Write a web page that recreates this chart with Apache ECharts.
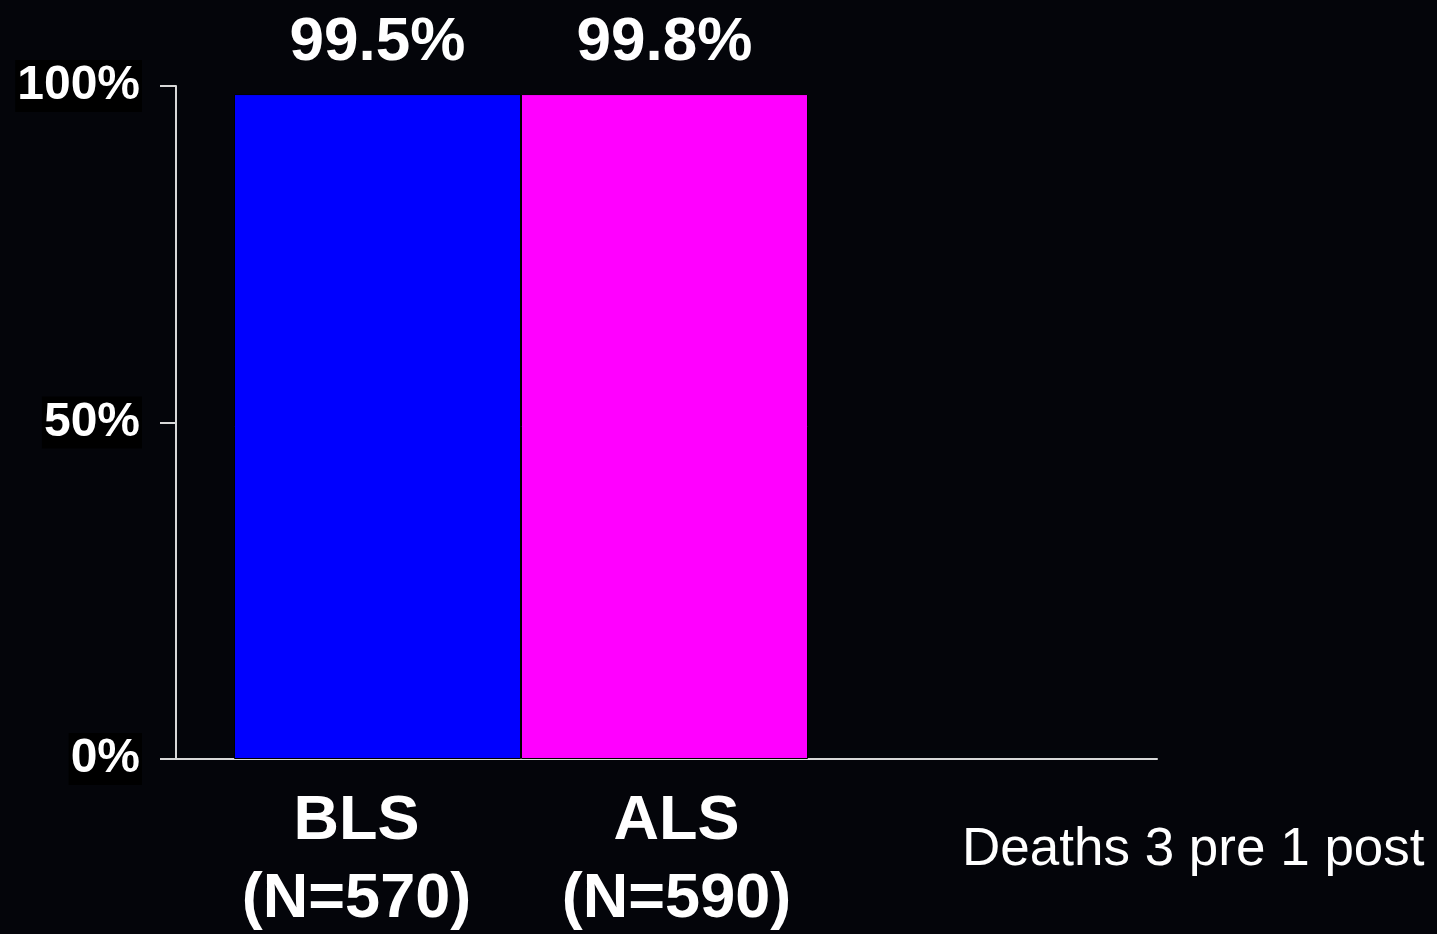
<!DOCTYPE html>
<html>
<head>
<meta charset="utf-8">
<script src="https://cdn.jsdelivr.net/npm/echarts@6/dist/echarts.min.js"></script>
<style>
  html, body { margin: 0; padding: 0; background: #04050a; }
  #container { width: 1437px; height: 934px; }
</style>
</head>
<body>
<div id="container"></div>
<script>
var dom = document.getElementById("container");
var myChart = echarts.init(dom);

// data
var groups = ['BLS', 'ALS'];
var groupN = ['(N=570)', '(N=590)'];
var barHeights = [98.8, 98.8];      // drawn bar heights (%)
var barLabels = ['99.5%', '99.8%']; // printed values
var barColors = ['#0000ff', '#ff00ff'];
var yTicks = [0, 50, 100];
var note = 'Deaths 3 pre 1 post';

var font = '"Liberation Sans", Arial, sans-serif';

var option = {
    backgroundColor: '#04050a',
    animation: false,
    title: {
        text: note,
        left: 962,
        top: 824,
        padding: 0,
        textStyle: {
            color: '#ffffff',
            fontFamily: font,
            fontWeight: 'normal',
            fontSize: 53
        }
    },
    grid: [
        // frame with axes
        { left: 176, right: 280, top: 86, bottom: 175, outerBoundsMode: 'none' },
        // bars
        { left: 234, right: 629, top: 86, bottom: 175, outerBoundsMode: 'none' }
    ],
    xAxis: [
        {
            gridIndex: 0,
            type: 'category',
            data: [''],
            axisLine: { lineStyle: { color: '#d8d8d8', width: 2 } },
            axisTick: { show: false },
            axisLabel: { show: false }
        },
        {
            gridIndex: 1,
            type: 'category',
            data: groups,
            axisLine: { show: false },
            axisTick: { show: false },
            axisLabel: {
                interval: 0,
                hideOverlap: false,
                margin: 24,
                color: '#ffffff',
                fontFamily: font,
                fontWeight: 'bold',
                fontSize: 63,
                lineHeight: 78,
                formatter: function (value, idx) {
                    var tag = 'c' + idx;
                    return '{' + tag + '|' + value + '}\n{' + tag + '|' + groupN[idx] + '}';
                },
                rich: {
                    c0: {
                        color: '#ffffff', fontFamily: font, fontWeight: 'bold',
                        fontSize: 63, lineHeight: 78, padding: [0, 42, 0, 0]
                    },
                    c1: {
                        color: '#ffffff', fontFamily: font, fontWeight: 'bold',
                        fontSize: 63, lineHeight: 78, padding: [0, 0, 0, 24]
                    }
                }
            }
        }
    ],
    yAxis: [
        {
            gridIndex: 0,
            type: 'value',
            min: 0,
            max: 100,
            interval: 50,
            splitLine: { show: false },
            axisLine: { show: true, lineStyle: { color: '#d8d8d8', width: 2 } },
            axisTick: { show: true, length: 16, lineStyle: { color: '#d8d8d8', width: 2 } },
            axisLabel: {
                margin: 34,
                color: '#ffffff',
                fontFamily: font,
                fontWeight: 'bold',
                fontSize: 48,
                backgroundColor: '#000000',
                padding: [2, 2, 2, 2],
                formatter: function (v) {
                    return yTicks.indexOf(v) >= 0 ? v + '%' : '';
                }
            }
        },
        {
            gridIndex: 1,
            type: 'value',
            min: 0,
            max: 100,
            show: false
        }
    ],
    series: [{
        type: 'bar',
        xAxisIndex: 1,
        yAxisIndex: 1,
        barWidth: '100%',
        data: barHeights.map(function (v, i) {
            return { value: v, itemStyle: { color: barColors[i] } };
        }),
        itemStyle: { borderColor: '#000000', borderWidth: 1 },
        label: {
            show: true,
            position: 'top',
            distance: 20,
            color: '#ffffff',
            fontFamily: font,
            fontWeight: 'bold',
            fontSize: 62,
            formatter: function (p) { return barLabels[p.dataIndex]; }
        }
    }]
};

myChart.setOption(option);
</script>
</body>
</html>
